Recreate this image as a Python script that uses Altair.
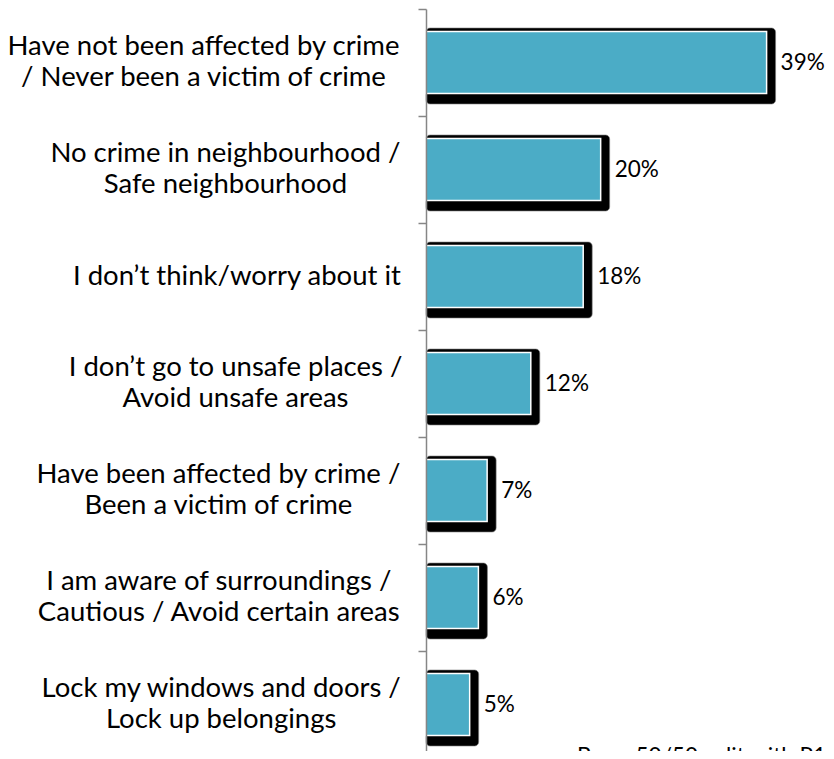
import altair as alt
import pandas as pd

categories = [
    "Have not been affected by crime\n/ Never been a victim of crime",
    "No crime in neighbourhood /\nSafe neighbourhood",
    "I don\u2019t think/worry about it",
    "I don\u2019t go to unsafe places /\nAvoid unsafe areas",
    "Have been affected by crime /\nBeen a victim of crime",
    "I am aware of surroundings /\nCautious / Avoid certain areas",
    "Lock my windows and doors /\nLock up belongings",
]
values = [39, 20, 18, 12, 7, 6, 5]
value_labels = ["39%", "20%", "18%", "12%", "7%", "6%", "5%"]
base_note = "Base: 50/50 split with P10a"

FONT = "Lato"
FS_CAT = 27.5
FS_VAL = 22.5
LINE_H = 31
PX_PER_PCT = 8.75
XMAX = 45
W = int(XMAX * PX_PER_PCT)
BAND_RANGE = 749      # 7 bands of 107px
H = 742               # visible part of the plot (the picture is cut at the bottom)
LABEL_GAP = 28
PAD_L = 418
PAD_R = 818 - PAD_L - W

# approximate advance widths (em) used to centre each label block
_cw = {
    " ": .193, "/": .37, "\u2019": .22, "'": .2,
    "a": .48, "b": .54, "c": .45, "d": .54, "e": .51, "f": .31, "g": .49, "h": .54,
    "i": .23, "j": .23, "k": .49, "l": .23, "m": .81, "n": .54, "o": .54, "p": .54,
    "q": .54, "r": .35, "s": .41, "t": .33, "u": .54, "v": .49, "w": .75, "x": .48,
    "y": .49, "z": .44,
    "A": .67, "B": .63, "C": .66, "H": .75, "I": .29, "L": .48, "N": .76, "S": .51,
}


def est_width(s):
    return sum(_cw.get(ch, .55) for ch in s) * FS_CAT * 1.046


df = pd.DataFrame({"cat": categories, "value": values, "vlabel": value_labels})
df["lx"] = [-LABEL_GAP - max(est_width(l) for l in c.split("\n")) / 2 for c in categories]
df["nlines"] = [len(c.split("\n")) for c in categories]

ysc = alt.Scale(paddingInner=0, paddingOuter=0, range=[0, BAND_RANGE])
xsc = alt.Scale(domain=[0, XMAX])
y_axis = alt.Axis(
    labels=False, title=None, bandPosition=0, tickSize=8, tickColor="#868686",
    domainColor="#868686", tickWidth=1.5, domainWidth=1.5, grid=False, zindex=1,
)

base = alt.Chart(df)

shadow = base.mark_bar(
    color="#000000", height=76, yOffset=3.5, xOffset=9, cornerRadius=4,
    stroke="#7f7f7f", strokeWidth=0.6,
).encode(
    y=alt.Y("cat:N", sort=categories, scale=ysc, axis=y_axis),
    x=alt.X("value:Q", scale=xsc, axis=None),
    x2=alt.datum(0),
)

bars = base.mark_bar(
    color="#4BACC6", height=62, stroke="#ffffff", strokeWidth=1.5,
).encode(
    y=alt.Y("cat:N", sort=categories),
    x=alt.X("value:Q", scale=xsc, axis=None),
    x2=alt.datum(0),
)

vtext = base.mark_text(
    align="left", baseline="middle", dx=14, font=FONT, fontSize=FS_VAL, color="#000000",
).encode(
    y=alt.Y("cat:N", sort=categories),
    x=alt.X("value:Q", scale=xsc, axis=None),
    text="vlabel:N",
)


def label_layer(n, dy):
    return base.transform_filter(f"datum.nlines == {n}").mark_text(
        align="center", baseline="middle", font=FONT, fontSize=FS_CAT, color="#000000",
        lineBreak="\n", lineHeight=LINE_H, dy=dy,
    ).encode(
        y=alt.Y("cat:N", sort=categories),
        x=alt.X("lx:Q", scale=None, axis=None),
        text="cat:N",
    )


ltext1 = label_layer(1, 0)
ltext2 = label_layer(2, -LINE_H / 2)

note = alt.Chart(pd.DataFrame({"t": [base_note]})).mark_text(
    align="left", baseline="top", font=FONT, fontSize=FS_VAL, color="#000000",
).encode(
    x=alt.value(151), y=alt.value(737), text="t:N",
)

chart = alt.layer(shadow, bars, vtext, ltext1, ltext2, note).resolve_scale(
    x="independent"
).properties(
    width=W, height=H,
    padding={"left": PAD_L, "top": 1, "right": PAD_R, "bottom": 0},
    autosize=alt.AutoSizeParams(type="none"),
).configure_view(stroke=None)

chart.save("out.html", embed_options={"renderer": "svg", "actions": False})
